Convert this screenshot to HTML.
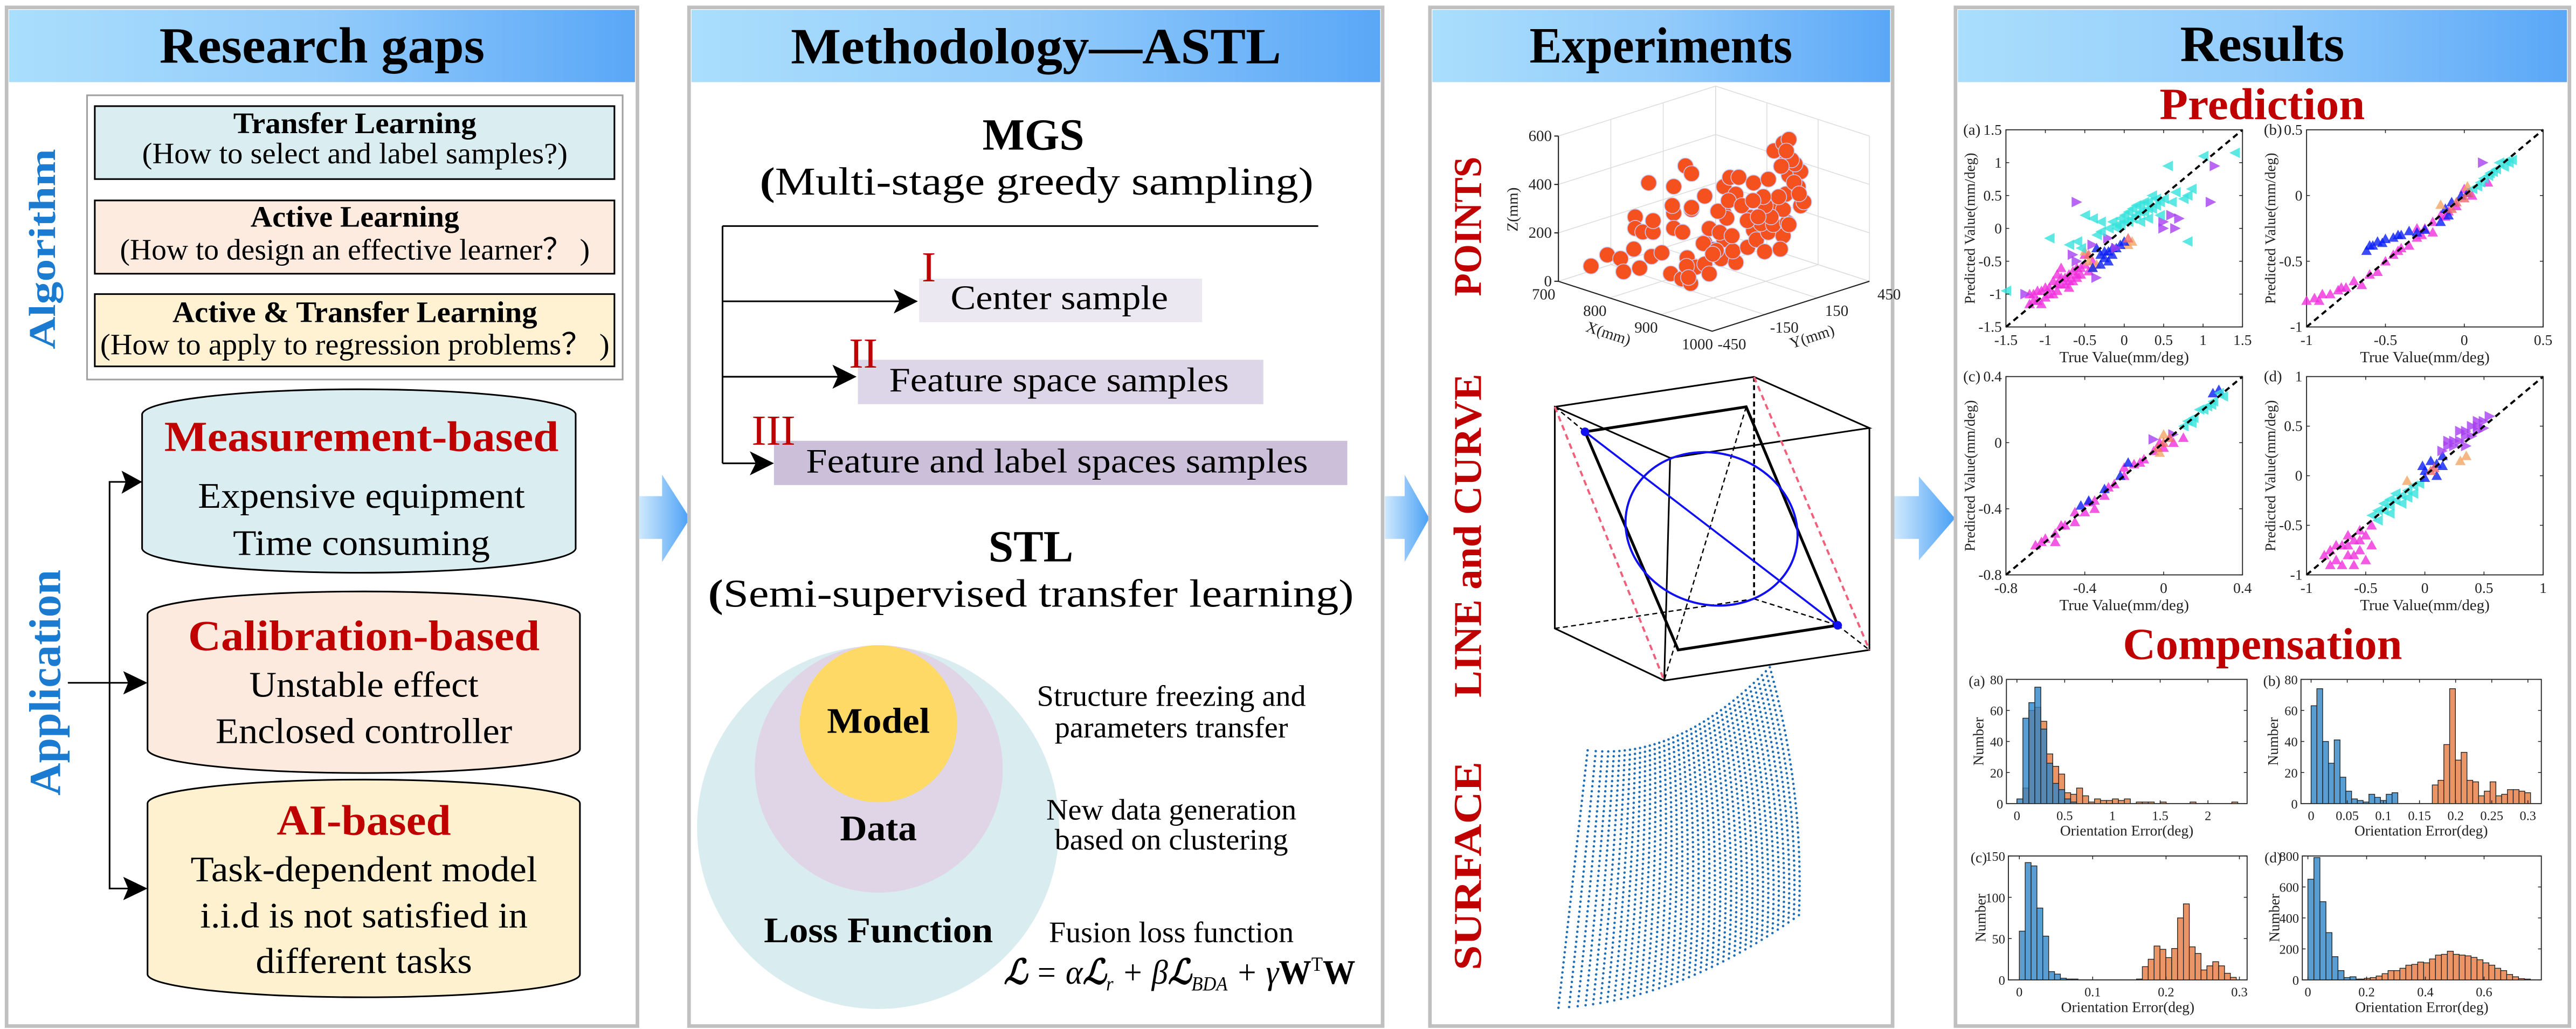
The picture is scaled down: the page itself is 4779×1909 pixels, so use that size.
<!DOCTYPE html>
<html><head><meta charset="utf-8"><title>ASTL graphical abstract</title>
<style>html,body{margin:0;padding:0;background:#fff}svg{display:block}text{font-family:"Liberation Serif","Times New Roman",serif}</style>
</head><body>
<svg id="root" xmlns="http://www.w3.org/2000/svg" width="4779" height="1909" viewBox="0 0 1568 626.3" preserveAspectRatio="none">
<defs>
<linearGradient id="hdr" x1="0" x2="1" y1="0" y2="0"><stop offset="0" stop-color="#aadefd"/><stop offset="0.5" stop-color="#93ccfb"/><stop offset="1" stop-color="#5aa7f7"/></linearGradient>
<linearGradient id="arr" x1="0" x2="1" y1="0" y2="0"><stop offset="0" stop-color="#cfe9fd"/><stop offset="1" stop-color="#4aa0f5"/></linearGradient>
</defs>
<rect x="0" y="0" width="1568" height="626.3" fill="#fff"/>

<!-- Panel 1 -->
<g>
<rect x="4" y="4.5" width="384" height="620" fill="#fff" stroke="#c0c0c0" stroke-width="2.2"/>
<rect x="5.5" y="6" width="381" height="44" fill="url(#hdr)"/>
<text x="196" y="38" text-anchor="middle" font-size="31" font-weight="bold" textLength="198" lengthAdjust="spacingAndGlyphs">Research gaps</text>
<rect x="53" y="58" width="326" height="173" fill="#fff" stroke="#a0a0a0" stroke-width="1"/>
<g>
<rect x="57.7" y="64.6" width="316.3" height="44.4" fill="#daedf0" stroke="#000" stroke-width="1"/>
<text x="216" y="81" text-anchor="middle" font-size="18" font-weight="bold" textLength="148" lengthAdjust="spacingAndGlyphs">Transfer Learning</text>
<text x="216" y="99.4" text-anchor="middle" font-size="18" textLength="259" lengthAdjust="spacingAndGlyphs">(How to select and label samples?)</text>
</g>
<g>
<rect x="57.7" y="122" width="316.3" height="44.6" fill="#fdebdf" stroke="#000" stroke-width="1"/>
<text x="216" y="138" text-anchor="middle" font-size="18" font-weight="bold" textLength="127" lengthAdjust="spacingAndGlyphs">Active Learning</text>
<text x="216" y="158" text-anchor="middle" font-size="18" textLength="286" lengthAdjust="spacingAndGlyphs">(How to design an effective learner？ )</text>
</g>
<g>
<rect x="57.7" y="179" width="316.3" height="44" fill="#fff2d3" stroke="#000" stroke-width="1"/>
<text x="216" y="196" text-anchor="middle" font-size="18" font-weight="bold" textLength="222" lengthAdjust="spacingAndGlyphs">Active &amp; Transfer Learning</text>
<text x="216" y="215.7" text-anchor="middle" font-size="18" textLength="310" lengthAdjust="spacingAndGlyphs">(How to  apply to regression problems？ )</text>
</g>
<text x="28" y="157" transform="rotate(-90 28 151.6)" text-anchor="middle" font-size="23" font-weight="bold" fill="#1a7bd0" textLength="122" lengthAdjust="spacingAndGlyphs">Algorithm</text>
<text x="30.6" y="421.5" transform="rotate(-90 30.6 415.5)" text-anchor="middle" font-size="27" font-weight="bold" fill="#1a7bd0" textLength="137.5" lengthAdjust="spacingAndGlyphs">Application</text>
<g stroke="#000" stroke-width="1" fill="none">
<polyline points="86,293.3 66.7,293.3 66.7,540.8 82,540.8"/>
<line x1="41.3" y1="415.6" x2="83" y2="415.6"/>
</g>
<g fill="#000">
<polygon points="86.5,293.3 74,286.5 76.5,293.3 74,300.5"/>
<polygon points="89.8,415.6 75,408.5 78,415.6 75,422.7"/>
<polygon points="89.8,540.8 75,533.7 78,540.8 75,547.9"/>
</g>
<g>
<path d="M86.5,252 A132,15.5 0 0 1 350.4,252 L350.4,334 A132,15 0 0 1 86.5,334 Z" fill="#daedf0" stroke="#000" stroke-width="1"/>
<text x="220" y="274.4" text-anchor="middle" font-size="26" font-weight="bold" fill="#c00000" textLength="240" lengthAdjust="spacingAndGlyphs">Measurement-based</text>
<text x="220" y="309" text-anchor="middle" font-size="22" textLength="199" lengthAdjust="spacingAndGlyphs">Expensive equipment</text>
<text x="220" y="337.8" text-anchor="middle" font-size="22" textLength="156.4" lengthAdjust="spacingAndGlyphs">Time consuming</text>
</g>
<g>
<path d="M89.8,374 A131.6,14 0 0 1 353,374 L353,456 A131.6,14.5 0 0 1 89.8,456 Z" fill="#fdeadf" stroke="#000" stroke-width="1"/>
<text x="221.5" y="395.6" text-anchor="middle" font-size="26" font-weight="bold" fill="#c00000" textLength="214" lengthAdjust="spacingAndGlyphs">Calibration-based</text>
<text x="221.5" y="424" text-anchor="middle" font-size="22" textLength="139.6" lengthAdjust="spacingAndGlyphs">Unstable effect</text>
<text x="221.5" y="452.2" text-anchor="middle" font-size="22" textLength="180.6" lengthAdjust="spacingAndGlyphs">Enclosed controller</text>
</g>
<g>
<path d="M89.8,489 A131.6,14.5 0 0 1 353,489 L353,593 A131.6,14 0 0 1 89.8,593 Z" fill="#fdf1cf" stroke="#000" stroke-width="1"/>
<text x="221.5" y="508" text-anchor="middle" font-size="26" font-weight="bold" fill="#c00000" textLength="106" lengthAdjust="spacingAndGlyphs">AI-based</text>
<text x="221.5" y="536.4" text-anchor="middle" font-size="22" textLength="211" lengthAdjust="spacingAndGlyphs">Task-dependent model</text>
<text x="221.5" y="564.5" text-anchor="middle" font-size="22" textLength="199.4" lengthAdjust="spacingAndGlyphs">i.i.d is not satisfied in</text>
<text x="221.5" y="592.2" text-anchor="middle" font-size="22" textLength="131.7" lengthAdjust="spacingAndGlyphs">different tasks</text>
</g>
</g>

<!-- flow arrows -->
<polygon points="389,302 403,302 403,289 420,315.5 403,342 403,328 389,328" fill="url(#arr)"/>
<polygon points="843,302 855,302 855,289 870,315.5 855,342 855,328 843,328" fill="url(#arr)"/>
<polygon points="1153,302 1168,302 1168,290 1190,315.5 1168,341 1168,328 1153,328" fill="url(#arr)"/>

<!-- Panel 2 -->
<g>
<rect x="419.4" y="4.5" width="422.2" height="620" fill="#fff" stroke="#c0c0c0" stroke-width="2.2"/>
<rect x="420.9" y="6" width="419.2" height="44" fill="url(#hdr)"/>
<text x="630.6" y="38.5" text-anchor="middle" font-size="31" font-weight="bold" textLength="298.5" lengthAdjust="spacingAndGlyphs">Methodology—ASTL</text>
<text x="629" y="91" text-anchor="middle" font-size="27" font-weight="bold" textLength="62" lengthAdjust="spacingAndGlyphs">MGS</text>
<text x="631" y="118.4" text-anchor="middle" font-size="24" textLength="337" lengthAdjust="spacingAndGlyphs"><tspan font-weight="bold">(</tspan>Multi-stage greedy sampling)</text>
<g stroke="#000" stroke-width="1" fill="none">
<line x1="439.8" y1="137.6" x2="802.4" y2="137.6"/>
<line x1="439.8" y1="137.6" x2="439.8" y2="282"/>
<line x1="439.8" y1="183.4" x2="548" y2="183.4"/>
<line x1="439.8" y1="229.3" x2="511" y2="229.3"/>
<line x1="439.8" y1="282" x2="461" y2="282"/>
</g>
<g fill="#000">
<polygon points="558.7,183.4 544,176 547.5,183.4 544,190.8"/>
<polygon points="521.4,229.3 506.7,222 510,229.3 506.7,236.6"/>
<polygon points="471.1,282 456.4,274.7 460,282 456.4,289.3"/>
</g>
<g>
<rect x="559.5" y="169.6" width="172.2" height="26.5" fill="#ece8f1"/>
<text x="561" y="171.3" font-size="26" fill="#c00000">I</text>
<text x="644.8" y="188.2" text-anchor="middle" font-size="21" textLength="132.4" lengthAdjust="spacingAndGlyphs">Center sample</text>
</g>
<g>
<rect x="522.2" y="219" width="246.8" height="27" fill="#ddd5e8"/>
<text x="516.8" y="223.8" font-size="26" fill="#c00000" textLength="17.4" lengthAdjust="spacingAndGlyphs">II</text>
<text x="644.6" y="238.2" text-anchor="middle" font-size="21" textLength="206.7" lengthAdjust="spacingAndGlyphs">Feature space samples</text>
</g>
<g>
<rect x="471.1" y="268.3" width="349" height="26.9" fill="#cbbfd9"/>
<text x="457.5" y="270.7" font-size="26" fill="#c00000" textLength="26.7" lengthAdjust="spacingAndGlyphs">III</text>
<text x="643.4" y="287.5" text-anchor="middle" font-size="21" textLength="305.5" lengthAdjust="spacingAndGlyphs">Feature and label spaces samples</text>
</g>
<text x="627.5" y="341.7" text-anchor="middle" font-size="27" font-weight="bold" textLength="51.7" lengthAdjust="spacingAndGlyphs">STL</text>
<text x="627.5" y="369.3" text-anchor="middle" font-size="24" textLength="393" lengthAdjust="spacingAndGlyphs"><tspan font-weight="bold">(</tspan>Semi-supervised transfer learning)</text>
<g>
<ellipse cx="534.5" cy="503.6" rx="110.2" ry="110.5" fill="#d9ecef"/>
<ellipse cx="534.9" cy="468" rx="75.5" ry="75.3" fill="#dfd5e6"/>
<ellipse cx="534.7" cy="440.5" rx="47.9" ry="47.8" fill="#fed966"/>
<text x="534.7" y="446" text-anchor="middle" font-size="22" font-weight="bold" textLength="62.6" lengthAdjust="spacingAndGlyphs">Model</text>
<text x="534.7" y="511.5" text-anchor="middle" font-size="22" font-weight="bold" textLength="46.8" lengthAdjust="spacingAndGlyphs">Data</text>
<text x="534.7" y="573.4" text-anchor="middle" font-size="22" font-weight="bold" textLength="139.5" lengthAdjust="spacingAndGlyphs">Loss Function</text>
</g>
<g font-size="18" text-anchor="middle">
<text x="713" y="429.7" textLength="163.7" lengthAdjust="spacingAndGlyphs">Structure freezing and</text>
<text x="713" y="448.8" textLength="142" lengthAdjust="spacingAndGlyphs">parameters transfer</text>
<text x="713" y="498.8" textLength="152.3" lengthAdjust="spacingAndGlyphs">New data generation</text>
<text x="713" y="517" textLength="142" lengthAdjust="spacingAndGlyphs">based on clustering</text>
<text x="713" y="573.4" textLength="149" lengthAdjust="spacingAndGlyphs">Fusion loss function</text>
</g>
<text x="611" y="598.8" font-size="21" font-style="italic" textLength="214" lengthAdjust="spacingAndGlyphs"><tspan font-weight="bold">ℒ</tspan> = α<tspan font-weight="bold">ℒ</tspan><tspan font-size="12" dy="4">r</tspan><tspan dy="-4"> + β</tspan><tspan font-weight="bold">ℒ</tspan><tspan font-size="12" dy="4">BDA</tspan><tspan dy="-4"> + γ</tspan><tspan font-style="normal" font-weight="bold">W</tspan><tspan font-style="normal" font-size="12" dy="-8">T</tspan><tspan font-style="normal" font-weight="bold" dy="8">W</tspan></text>
</g>

<!-- Panel 3 -->
<g>
<rect x="870.4" y="4.5" width="281.6" height="620" fill="#fff" stroke="#c0c0c0" stroke-width="2.2"/>
<rect x="871.9" y="6" width="278.6" height="44" fill="url(#hdr)"/>
<text x="1011" y="38" text-anchor="middle" font-size="31" font-weight="bold" textLength="160" lengthAdjust="spacingAndGlyphs">Experiments</text>
<text x="893" y="146.2" transform="rotate(-90 893 137.8)" text-anchor="middle" font-size="24" font-weight="bold" fill="#c00000" textLength="85" lengthAdjust="spacingAndGlyphs">POINTS</text>
<text x="893" y="334.4" transform="rotate(-90 893 326)" text-anchor="middle" font-size="24" font-weight="bold" fill="#c00000" textLength="197" lengthAdjust="spacingAndGlyphs">LINE and CURVE</text>
<text x="893" y="535.4" transform="rotate(-90 893 527)" text-anchor="middle" font-size="24" font-weight="bold" fill="#c00000" textLength="127" lengthAdjust="spacingAndGlyphs">SURFACE</text>
<g id="scatter3d"></g>
<g>
<g stroke="#000" stroke-width="1" fill="none">
<polyline points="946.4,247.6 1067.7,229.4 1137.9,260.5 1016.6,278.7 946.4,247.6 946.4,382.5 1013,414.2 1137.9,395.6 1137.9,260.5"/>
<line x1="1016.6" y1="278.7" x2="1013" y2="414.2"/>
</g>
<g stroke="#000" stroke-width="0.8" fill="none" stroke-dasharray="3,2">
<line x1="1067.7" y1="229.4" x2="1067.7" y2="364.5" stroke-width="1.2"/>
<line x1="946.4" y1="382.5" x2="1067.7" y2="364.5"/>
<line x1="1067.7" y1="364.5" x2="1118.6" y2="380.6"/>
<line x1="946.4" y1="247.6" x2="964.8" y2="262.8"/>
<line x1="1118.6" y1="380.6" x2="1137.9" y2="395.6"/>
<line x1="1062.9" y1="247.6" x2="1013" y2="414.2"/>
</g>
<g stroke="#f0607a" stroke-width="1.3" fill="none" stroke-dasharray="3.5,2.5">
<line x1="946.4" y1="247.6" x2="1013" y2="414.2"/>
<line x1="1067.7" y1="229.4" x2="1137.9" y2="395.6"/>
</g>
<polygon points="964.8,262.8 1062.9,247.6 1118.6,380.6 1021.5,395.6" fill="none" stroke="#000" stroke-width="1.7"/>
<ellipse cx="1041.8" cy="321.9" rx="53" ry="46" transform="rotate(18 1041.8 321.9)" fill="none" stroke="#1010f0" stroke-width="1.3"/>
<line x1="964.8" y1="262.8" x2="1118.6" y2="380.6" stroke="#1010f0" stroke-width="1.2"/>
<circle cx="964.8" cy="262.8" r="2.6" fill="#1010f0"/>
<circle cx="1118.6" cy="380.6" r="2.6" fill="#1010f0"/>
</g>
<g id="surface"></g>
</g>

<!-- Panel 4 -->
<g>
<rect x="1190.3" y="4.5" width="373.7" height="620" fill="#fff" stroke="#c0c0c0" stroke-width="2.2"/>
<rect x="1191.8" y="6" width="370.7" height="44" fill="url(#hdr)"/>
<text x="1377" y="37" text-anchor="middle" font-size="31" font-weight="bold" textLength="100" lengthAdjust="spacingAndGlyphs">Results</text>
<text x="1377" y="72.5" text-anchor="middle" font-size="27" font-weight="bold" fill="#c00000" textLength="125" lengthAdjust="spacingAndGlyphs">Prediction</text>
<text x="1377.2" y="401" text-anchor="middle" font-size="27" font-weight="bold" fill="#c00000" textLength="170" lengthAdjust="spacingAndGlyphs">Compensation</text>
<g id="charts"></g>
</g>
</svg>

<script>
// ---------- 3D scatter data (mm) ----------
const scatterX = [750,750,750,750,750,750,750,750,750, 850,850,850,850,850,850,850,850,850,850,850,850,850,850,850, 900,900,900,900,900,900, 950,950,950,950,950,950,950,950,950,950,950,950,950,950,950,950, 950,950,950,950,950,950,950, 1000,1000,1000,1000,1000, 1000,1000,1000,1000,1000,1000,1000, 854,878,883,889,860,883,854,872,831,849,860,791,820,860,849,825,814,768,779, 870,880,840,810,800,865,855,845,790];
const scatterY = [-410,-317,-241,-224,-165,-157,-157,-114,-80, -425,-357,-348,-348,-298,-247,-230,-230,-230,-238,-179,-163,-128,-128,-128, -300,-250,-200,-330,-280,-150, -450,-439,-354,-346,-346,-320,-320,-253,-236,-236,-236,-202,-151,-168,-185,-168, -280,-260,-220,-190,-270,-300,-210, -247,-213,-197,-129,-44, -230,-170,-150,-100,-80,-60,-20, 400,400,400,400,400,400,400,400,400,400,400,400,400,400,400,400,400,400,400, 400,400,400,400,400,400,400,400,400];
const scatterZ = [88,113,80,22,102,233,186,161,356, 152,184,283,330,186,88,334,272,444,367,244,514,474,326,334, 200,150,240,120,90,200, 234,185,306,219,500,173,360,220,295,404,514,544,533,185,236,467, 260,330,380,300,420,250,450, 300,363,320,335,301, 420,380,260,360,420,250,350, 271,318,243,263,353,384,403,408,434,478,501,274,309,149,204,157,196,164,110, 330,290,250,230,140,420,450,380,200];
const zTicks = [0,200,400,600];
const xTicks3d = [700,800,900,1000];
const yTicks3d = [-450,-150,150,450];

// ---------- Prediction scatter data ----------
const predAMagenta = [[-1.2,-1.15],[-1.15,-1.0],[-1.1,-1.1],[-1.05,-0.95],[-1.0,-1.05],[-0.95,-0.9],[-0.9,-0.8],[-0.85,-0.95],[-0.8,-0.75],[-0.75,-0.85],[-0.7,-0.7],[-0.65,-0.8],[-0.6,-0.6],[-0.55,-0.7],[-0.5,-0.55],[-0.45,-0.65],[-0.9,-1.0],[-1.2,-1.0],[-0.7,-0.9],[-0.6,-0.75],[-0.5,-0.4],[-0.4,-0.5],[-1.05,-1.15],[-0.8,-0.6],[-1.0,-0.9],[-0.85,-0.85],[-0.75,-0.75],[-0.65,-0.65],[-1.1,-0.95],[-0.95,-1.0],[-0.8,-0.85],[-0.7,-0.8],[-0.6,-0.7],[-0.55,-0.6],[-0.85,-0.7],[-1.15,-1.1]];
const predACyan = [[1.4,1.15],[1.0,1.1],[0.55,0.95],[0.85,0.6],[0.75,0.45],[0.6,0.4],[0.5,0.45],[0.4,0.35],[0.3,0.3],[0.2,0.25],[0.1,0.15],[0.0,0.1],[-0.1,0.05],[-0.2,0.0],[-0.3,-0.05],[0.35,0.5],[0.25,0.4],[0.15,0.35],[0.05,0.25],[-0.05,0.15],[-0.15,0.1],[0.45,0.2],[0.3,0.15],[-0.5,0.2],[-0.4,0.15],[-0.6,-0.2],[-0.7,-0.25],[-0.95,-0.15],[-1.5,-0.95],[-0.55,-0.3],[0.8,-0.2],[0.8,0.5],[0.65,0.55],[-0.3,0.1],[0.2,0.1],[-0.35,-0.1],[0.1,0.3],[0.0,0.2],[0.4,0.45],[-0.1,0.0],[0.15,0.2],[0.25,0.25],[0.35,0.3],[0.45,0.4],[0.05,0.1],[-0.05,0.05],[0.2,0.35],[0.3,0.4]];
const predAPurple = [[1.15,0.95],[1.1,0.4],[-0.6,0.4],[0.6,0.2],[0.5,0.0],[0.65,0.0],[-0.35,-0.75],[-1.25,-1.0],[-0.6,-0.5],[-0.2,-0.15],[-0.4,-0.25],[0.5,0.1],[-0.1,-0.3],[0.7,0.15],[-0.65,-0.4]];
const predABlue = [[-0.4,-0.6],[-0.3,-0.55],[-0.25,-0.45],[-0.2,-0.35],[-0.15,-0.4],[-0.1,-0.3],[-0.3,-0.4],[-0.35,-0.3],[-0.05,-0.25],[-0.2,-0.5],[0.0,-0.2],[-0.25,-0.35],[-0.15,-0.3]];
const predAOrange = [[-0.45,-0.5],[-0.4,-0.6],[-0.35,-0.55],[-0.5,-0.35],[0.1,-0.2],[0.05,-0.25]];
const predASalmon = [[-0.45,-0.4],[0.05,-0.15]];

const predBMagenta = [[-1.0,-0.8],[-0.95,-0.78],[-0.9,-0.75],[-0.85,-0.75],[-0.8,-0.72],[-0.75,-0.7],[-0.7,-0.65],[-0.65,-0.68],[-0.6,-0.6],[-0.55,-0.58],[-0.5,-0.5],[-0.45,-0.45],[-0.4,-0.4],[-0.35,-0.38],[-0.3,-0.32],[-0.25,-0.25],[-0.2,-0.2],[-0.15,-0.15],[-0.1,-0.12],[-0.05,-0.08],[0.05,0.0],[0.15,0.1],[0.0,0.05],[-0.3,-0.25],[-0.2,-0.28],[-0.42,-0.42],[-0.27,-0.3],[-0.12,-0.16],[-0.92,-0.8],[-0.78,-0.7]];
const predBBlue = [[-0.62,-0.42],[-0.58,-0.38],[-0.55,-0.35],[-0.5,-0.33],[-0.45,-0.32],[-0.4,-0.3],[-0.35,-0.27],[-0.3,-0.28],[-0.25,-0.26],[-0.15,-0.2],[-0.1,-0.15],[-0.08,-0.05],[-0.02,0.0],[0.02,0.02],[-0.12,-0.1],[-0.6,-0.38],[-0.52,-0.36],[-0.42,-0.3]];
const predBCyan = [[0.05,0.05],[0.1,0.1],[0.15,0.15],[0.2,0.2],[0.25,0.22],[0.3,0.27],[0.12,0.13],[0.18,0.18],[0.22,0.25],[0.28,0.25],[0.08,0.07],[0.16,0.17],[0.26,0.26]];
const predBSalmon = [[-0.05,-0.05],[0.0,-0.02],[0.03,0.02],[-0.08,-0.1]];
const predBOrange = [[-0.15,-0.07],[0.02,0.07]];
const predBPurple = [[0.12,0.25]];

const predCMagenta = [[-0.65,-0.62],[-0.6,-0.58],[-0.55,-0.55],[-0.5,-0.5],[-0.45,-0.48],[-0.4,-0.42],[-0.35,-0.35],[-0.3,-0.32],[-0.25,-0.25],[-0.2,-0.2],[-0.15,-0.13],[-0.1,-0.1],[-0.05,-0.05],[0.0,-0.03],[0.05,0.0],[-0.55,-0.6],[-0.35,-0.4],[-0.2,-0.15],[-0.45,-0.42],[0.1,0.03],[-0.62,-0.6],[-0.52,-0.5],[-0.38,-0.36],[-0.28,-0.27],[-0.12,-0.12],[-0.02,0.0]];
const predCBlue = [[-0.42,-0.38],[-0.38,-0.35],[-0.3,-0.28],[-0.22,-0.2],[-0.18,-0.12],[0.28,0.32],[0.25,0.3]];
const predCCyan = [[0.1,0.1],[0.15,0.15],[0.2,0.2],[0.25,0.25],[0.3,0.28],[0.12,0.13],[0.18,0.2],[0.22,0.22],[0.28,0.3],[0.14,0.12],[0.24,0.23]];
const predCSalmon = [[0.0,0.0],[-0.03,-0.03],[0.03,0.03]];
const predCOrange = [[0.0,0.05],[-0.02,-0.06]];
const predCPurple = [[-0.05,0.02],[0.05,0.05]];

const predDMagenta = [[-0.85,-0.8],[-0.8,-0.75],[-0.75,-0.85],[-0.7,-0.7],[-0.7,-0.9],[-0.65,-0.8],[-0.6,-0.65],[-0.6,-0.9],[-0.55,-0.75],[-0.5,-0.6],[-0.5,-0.85],[-0.45,-0.7],[-0.45,-0.5],[-0.8,-0.9],[-0.65,-0.6],[-0.55,-0.55],[-0.75,-0.7],[-0.65,-0.7],[-0.55,-0.65],[-0.6,-0.8]];
const predDCyan = [[-0.45,-0.4],[-0.4,-0.35],[-0.35,-0.35],[-0.3,-0.3],[-0.25,-0.25],[-0.2,-0.2],[-0.15,-0.15],[-0.1,-0.1],[-0.05,-0.08],[-0.4,-0.45],[-0.3,-0.38],[-0.2,-0.28],[-0.1,-0.18],[-0.35,-0.28],[-0.25,-0.18],[-0.15,-0.22],[-0.3,-0.24]];
const predDBlue = [[0.0,0.05],[0.05,0.15],[0.1,0.12],[0.15,0.1],[0.1,0.0],[0.0,-0.02],[0.15,0.2],[-0.02,0.1]];
const predDSalmon = [[0.05,0.05],[0.08,0.08]];
const predDOrange = [[0.3,0.15],[0.35,0.2],[-0.15,-0.05]];
const predDPurple = [[0.15,0.25],[0.2,0.3],[0.25,0.35],[0.3,0.35],[0.35,0.45],[0.4,0.5],[0.45,0.55],[0.5,0.55],[0.55,0.6],[0.3,0.45],[0.4,0.4],[0.45,0.45],[0.2,0.35],[0.5,0.48],[0.35,0.3],[0.25,0.3],[0.35,0.4],[0.45,0.5]];

const predATicks = [-1.5,-1,-0.5,0,0.5,1,1.5];
const predBTicks = [-1,-0.5,0,0.5];
const predCTicks = [-0.8,-0.4,0,0.4];
const predDTicks = [-1,-0.5,0,0.5,1];

// ---------- Histogram data ----------
const histABlue = [3,55,65,75,48,26,13,9,3,1];
const histAOrange = [0,10,60,62,53,32,24,19,7,6,10,5,1,3,2,2,3,2,3,0,1,1,1,0,1,0,0,0,0,1,0,0,0,0,0,0,1];
const histBBlue = [63,74,40,26,41,17,8,3,2,1,6,4,2,6,7];
const histBOrange = [12,15,38,74,28,33,15,14,5,8,14,5,6,9,9,8,7];
const histCBlue = [59,142,138,87,53,10,7,2,1,1];
const histCOrange = [1,16,25,41,37,27,38,75,92,40,32,12,17,22,17,8,3];
const histDBlue = [650,790,505,305,150,60,15,20,5];
const histDOrange = [5,10,15,25,40,60,60,75,95,100,115,110,135,160,165,185,165,160,155,145,130,110,95,75,60,35,20,8,5];
const histATicksX = [0,0.5,1,1.5,2];
const histBTicksX = [0,0.05,0.1,0.15,0.2,0.25,0.3];
const histCTicksX = [0,0.1,0.2,0.3];
const histDTicksX = [0,0.2,0.4,0.6];
const histATicksY = [0,20,40,60,80];
const histBTicksY = [0,20,40,60,80];
const histCTicksY = [0,50,100,150];
const histDTicksY = [0,200,400,600,800];

const NS = "http://www.w3.org/2000/svg";
function el(tag, parent, attrs) {
  const e = document.createElementNS(NS, tag);
  for (const k in attrs) e.setAttribute(k, attrs[k]);
  parent.appendChild(e);
  return e;
}

// ---------- 3D scatter ----------
(function () {
  const g = document.getElementById('scatter3d');
  const O = [948.6, 171.2], XV = [93.6, 30.4], YV = [95.7, -30.4], ZH = 88.4;
  function proj(x, y, z) {
    const a = (x - 700) / 300, b = (y + 450) / 900, c = z / 600;
    return [O[0] + a * XV[0] + b * YV[0], O[1] + a * XV[1] + b * YV[1] - c * ZH];
  }
  const grid = el('g', g, {stroke: '#dcdcdc', 'stroke-width': 0.5, fill: 'none'});
  
  
  zTicks.forEach(z => {
    const p1 = proj(700, -450, z), p2 = proj(700, 450, z), p3 = proj(1000, 450, z);
    el('polyline', grid, {points: `${p1} ${p2} ${p3}`});
  });
  xTicks3d.forEach(x => {
    const p1 = proj(x, 450, 0), p2 = proj(x, 450, 600), p0 = proj(x, -450, 0);
    el('line', grid, {x1: p1[0], y1: p1[1], x2: p2[0], y2: p2[1]});
    el('line', grid, {x1: p0[0], y1: p0[1], x2: p1[0], y2: p1[1]});
  });
  yTicks3d.forEach(y => {
    const p1 = proj(700, y, 0), p2 = proj(700, y, 600), p3 = proj(1000, y, 0);
    el('line', grid, {x1: p1[0], y1: p1[1], x2: p2[0], y2: p2[1]});
    el('line', grid, {x1: p1[0], y1: p1[1], x2: p3[0], y2: p3[1]});
  });
  const ax = el('g', g, {stroke: '#222', 'stroke-width': 0.7, fill: 'none'});
  
  
  const a0 = proj(700, -450, 0), a1 = proj(700, -450, 600), a2 = proj(1000, -450, 0), a3 = proj(1000, 450, 0);
  el('polyline', ax, {points: `${a1} ${a0} ${a2} ${a3}`});
  const lab = el('g', g, {'font-size': 9.5, fill: '#222'});
  
  
  zTicks.forEach(z => {
    const p = proj(700, -450, z);
    const t = el('text', lab, {x: p[0] - 4, y: p[1] + 3, 'text-anchor': 'end'});
    t.textContent = z;
    el('line', ax, {x1: p[0] - 2.5, y1: p[1], x2: p[0], y2: p[1]});
  });
  xTicks3d.forEach((x, i) => {
    const p = proj(x, -450, 0);
    const t = el('text', lab, {x: p[0] - 9, y: p[1] + 11, 'text-anchor': 'middle'});
    t.textContent = x;
  });
  yTicks3d.forEach(y => {
    const p = proj(1000, y, 0);
    const t = el('text', lab, {x: p[0] + 12, y: p[1] + 11, 'text-anchor': 'middle'});
    t.textContent = y;
  });
  const xl = el('text', lab, {x: 979, y: 206, 'text-anchor': 'middle', transform: 'rotate(18 979 203)'});
  xl.textContent = 'X(mm)';
  const yl = el('text', lab, {x: 1103, y: 208, 'text-anchor': 'middle', transform: 'rotate(-18 1103 205)'});
  yl.textContent = 'Y(mm)';
  const zl = el('text', lab, {x: 920.7, y: 130.5, 'text-anchor': 'middle', transform: 'rotate(-90 920.7 127.5)'});
  zl.textContent = 'Z(mm)';
  const pts = el('g', g, {fill: '#f4511e', stroke: '#c9c9f5', 'stroke-width': 0.5});
  
  
  for (let i = 0; i < scatterX.length; i++) {
    const p = proj(scatterX[i], scatterY[i], scatterZ[i]);
    const c = el('circle', pts, {cx: p[0], cy: p[1], r: 4.8});
    
    
  }
})();

// ---------- Surface dot grid ----------
(function () {
  const g = document.getElementById('surface');
  const TL = [966.4, 456.7], TR = [1077.3, 406.1], BR = [1095, 557], BL = [948.6, 613.4];
  const cols = 40, rows = 52;
  for (let j = 0; j < rows; j++) {
    const v = j / (rows - 1);
    for (let i = 0; i < cols; i++) {
      const u = i / (cols - 1);
      const uu = Math.pow(u, 0.85);
      let x = (1 - uu) * (1 - v) * TL[0] + uu * (1 - v) * TR[0] + uu * v * BR[0] + (1 - uu) * v * BL[0];
      let y = (1 - uu) * (1 - v) * TL[1] + uu * (1 - v) * TR[1] + uu * v * BR[1] + (1 - uu) * v * BL[1];
      y += 4 * uu * (1 - uu) * (16 * (1 - v) + 12 * v);
      x += 4 * v * (1 - v) * 6 * uu;
      const c = el('circle', g, {cx: x.toFixed(2), cy: y.toFixed(2), r: 0.75, fill: '#1f6fb8'});
      
      
    }
  }
})();

// ---------- Prediction scatter plots ----------
function triPath(x, y, s, dir) {
  if (dir === 'left') return `M${x - s},${y} L${x + s},${y - s} L${x + s},${y + s} Z`;
  if (dir === 'right') return `M${x + s},${y} L${x - s},${y - s} L${x - s},${y + s} Z`;
  return `M${x},${y - s} L${x + s},${y + s * 0.8} L${x - s},${y + s * 0.8} Z`;
}
function predPlot(name, box, lim, ticks, series, tag) {
  const root = document.getElementById('charts');
  const g = el('g', root, {});
  
  
  const [x0, y0, x1, y1] = box;
  const sx = v => x0 + (v - lim[0]) / (lim[1] - lim[0]) * (x1 - x0);
  const sy = v => y1 - (v - lim[0]) / (lim[1] - lim[0]) * (y1 - y0);
  const frame = el('rect', g, {x: x0, y: y0, width: x1 - x0, height: y1 - y0, fill: '#fff', stroke: '#222', 'stroke-width': 0.6});
  
  
  const marks = el('g', g, {});
  
  
  series.forEach(s => {
    s.pts.forEach(p => {
      const m = el('path', marks, {d: triPath(sx(p[0]), sy(p[1]), 3.2, s.dir), fill: s.color, 'fill-opacity': 0.8});
      
      
    });
  });
  const diag = el('line', g, {x1: sx(lim[0]), y1: sy(lim[0]), x2: sx(lim[1]), y2: sy(lim[1]), stroke: '#000', 'stroke-width': 1.3, 'stroke-dasharray': '3.5,2.5'});
  
  
  const lab = el('g', g, {'font-size': 9, fill: '#222'});
  
  
  ticks.forEach(t => {
    const X = sx(t), Y = sy(t);
    el('line', g, {x1: X, y1: y1, x2: X, y2: y1 - 2, stroke: '#222', 'stroke-width': 0.5});
    el('line', g, {x1: X, y1: y0, x2: X, y2: y0 + 2, stroke: '#222', 'stroke-width': 0.5});
    el('line', g, {x1: x0, y1: Y, x2: x0 + 2, y2: Y, stroke: '#222', 'stroke-width': 0.5});
    el('line', g, {x1: x1, y1: Y, x2: x1 - 2, y2: Y, stroke: '#222', 'stroke-width': 0.5});
    const tx = el('text', lab, {x: X, y: y1 + 11, 'text-anchor': 'middle'});
    tx.textContent = t;
    const ty = el('text', lab, {x: x0 - 2.5, y: Y + 3, 'text-anchor': 'end'});
    ty.textContent = t;
  });
  const xt = el('text', lab, {x: (x0 + x1) / 2, y: y1 + 21.5, 'text-anchor': 'middle', 'font-size': 9.5});
  xt.textContent = 'True Value(mm/deg)';
  
  
  const cy = (y0 + y1) / 2, cx = x0 - 22;
  const yt = el('text', lab, {x: cx, y: cy + 3, 'text-anchor': 'middle', 'font-size': 9, transform: `rotate(-90 ${cx} ${cy})`});
  yt.textContent = 'Predicted Value(mm/deg)';
  
  
  const tg = el('text', lab, {x: x0 - 26, y: y0 + 3, 'font-size': 9.5});
  tg.textContent = tag;
  
  
}
const MAG = '#f030dc', CYA = '#36e2dc', BLU = '#0a1ef5', PUR = '#a640f0', ORA = '#f3a565', SAL = '#f06868';
predPlot('prediction-plot-a', [1221, 79, 1365, 199], [-1.5, 1.5], predATicks, [
  {name: 'magenta', pts: predAMagenta, color: MAG, dir: 'up'},
  {name: 'orange', pts: predAOrange, color: ORA, dir: 'up'},
  {name: 'blue', pts: predABlue, color: BLU, dir: 'up'},
  {name: 'purple', pts: predAPurple, color: PUR, dir: 'right'},
  {name: 'cyan', pts: predACyan, color: CYA, dir: 'left'},
  {name: 'salmon', pts: predASalmon, color: SAL, dir: 'up'}], '(a)');
predPlot('prediction-plot-b', [1404, 79, 1548, 199], [-1, 0.5], predBTicks, [
  {name: 'magenta', pts: predBMagenta, color: MAG, dir: 'up'},
  {name: 'blue', pts: predBBlue, color: BLU, dir: 'up'},
  {name: 'orange', pts: predBOrange, color: ORA, dir: 'up'},
  {name: 'cyan', pts: predBCyan, color: CYA, dir: 'left'},
  {name: 'salmon', pts: predBSalmon, color: SAL, dir: 'up'},
  {name: 'purple', pts: predBPurple, color: PUR, dir: 'right'}], '(b)');
predPlot('prediction-plot-c', [1221, 229.2, 1365, 349.9], [-0.8, 0.4], predCTicks, [
  {name: 'magenta', pts: predCMagenta, color: MAG, dir: 'up'},
  {name: 'blue', pts: predCBlue, color: BLU, dir: 'up'},
  {name: 'orange', pts: predCOrange, color: ORA, dir: 'up'},
  {name: 'purple', pts: predCPurple, color: PUR, dir: 'right'},
  {name: 'cyan', pts: predCCyan, color: CYA, dir: 'left'},
  {name: 'salmon', pts: predCSalmon, color: SAL, dir: 'up'}], '(c)');
predPlot('prediction-plot-d', [1404, 229.2, 1548, 349.9], [-1, 1], predDTicks, [
  {name: 'magenta', pts: predDMagenta, color: MAG, dir: 'up'},
  {name: 'cyan', pts: predDCyan, color: CYA, dir: 'left'},
  {name: 'orange', pts: predDOrange, color: ORA, dir: 'up'},
  {name: 'blue', pts: predDBlue, color: BLU, dir: 'up'},
  {name: 'salmon', pts: predDSalmon, color: SAL, dir: 'up'},
  {name: 'purple', pts: predDPurple, color: PUR, dir: 'right'}], '(d)');

// ---------- Histograms ----------
function histPlot(name, box, xlim, ylim, xticks, yticks, blue, blueStart, blueW, orange, orangeStart, orangeW, tag) {
  const root = document.getElementById('charts');
  const g = el('g', root, {});
  
  
  const [x0, y0, x1, y1] = box;
  const sx = v => x0 + (v - xlim[0]) / (xlim[1] - xlim[0]) * (x1 - x0);
  const sy = v => y1 - (v - ylim[0]) / (ylim[1] - ylim[0]) * (y1 - y0);
  const frame = el('rect', g, {x: x0, y: y0, width: x1 - x0, height: y1 - y0, fill: '#fff', stroke: '#222', 'stroke-width': 0.6});
  
  
  orange.forEach((v, i) => {
    if (v <= 0) return;
    const a = orangeStart + i * orangeW;
    const r = el('rect', g, {x: sx(a), y: sy(v), width: sx(a + orangeW) - sx(a), height: sy(0) - sy(v), fill: '#eb9466', stroke: '#222', 'stroke-width': 0.45});
    
    
  });
  blue.forEach((v, i) => {
    if (v <= 0) return;
    const a = blueStart + i * blueW;
    const r = el('rect', g, {x: sx(a), y: sy(v), width: sx(a + blueW) - sx(a), height: sy(0) - sy(v), fill: '#2f86c8', 'fill-opacity': 0.8, stroke: '#222', 'stroke-width': 0.45});
    
    
  });
  const lab = el('g', g, {'font-size': 8, fill: '#222'});
  
  
  xticks.forEach(t => {
    const X = sx(t);
    el('line', g, {x1: X, y1: y1, x2: X, y2: y1 - 2, stroke: '#222', 'stroke-width': 0.5});
    el('line', g, {x1: X, y1: y0, x2: X, y2: y0 + 2, stroke: '#222', 'stroke-width': 0.5});
    const tx = el('text', lab, {x: X, y: y1 + 10, 'text-anchor': 'middle'});
    tx.textContent = t;
  });
  yticks.forEach(t => {
    const Y = sy(t);
    el('line', g, {x1: x0, y1: Y, x2: x0 + 2, y2: Y, stroke: '#222', 'stroke-width': 0.5});
    el('line', g, {x1: x1, y1: Y, x2: x1 - 2, y2: Y, stroke: '#222', 'stroke-width': 0.5});
    const ty = el('text', lab, {x: x0 - 2, y: Y + 3, 'text-anchor': 'end'});
    ty.textContent = t;
  });
  const xt = el('text', lab, {x: (x0 + x1) / 2, y: y1 + 19.5, 'text-anchor': 'middle', 'font-size': 9});
  xt.textContent = 'Orientation Error(deg)';
  
  
  const cy = (y0 + y1) / 2, cx = x0 - 17;
  const yt = el('text', lab, {x: cx, y: cy + 3, 'text-anchor': 'middle', 'font-size': 9, transform: `rotate(-90 ${cx} ${cy})`});
  yt.textContent = 'Number';
  
  
  const tg = el('text', lab, {x: x0 - 23, y: y0 + 4, 'font-size': 9});
  tg.textContent = tag;
  
  
}
histPlot('compensation-hist-a', [1221.3, 413.5, 1367.8, 489.1], [-0.11, 2.41], [0, 80], histATicksX, histATicksY, histABlue, 0, 0.0625, histAOrange, 0, 0.0625, '(a)');
histPlot('compensation-hist-b', [1400.6, 413.5, 1546.9, 489.1], [-0.014, 0.3186], [0, 80], histBTicksX, histBTicksY, histBBlue, 0, 0.008, histBOrange, 0.1677, 0.008, '(b)');
histPlot('compensation-hist-c', [1222.5, 521, 1367.8, 596.4], [-0.0149, 0.3105], [0, 150], histCTicksX, histCTicksY, histCBlue, 0, 0.008, histCOrange, 0.1597, 0.008, '(c)');
histPlot('compensation-hist-d', [1401.4, 521, 1546.9, 596.4], [-0.019, 0.795], [0, 800], histDTicksX, histDTicksY, histDBlue, 0, 0.0205, histDOrange, 0.172, 0.0202, '(d)');
</script>
</body></html>
